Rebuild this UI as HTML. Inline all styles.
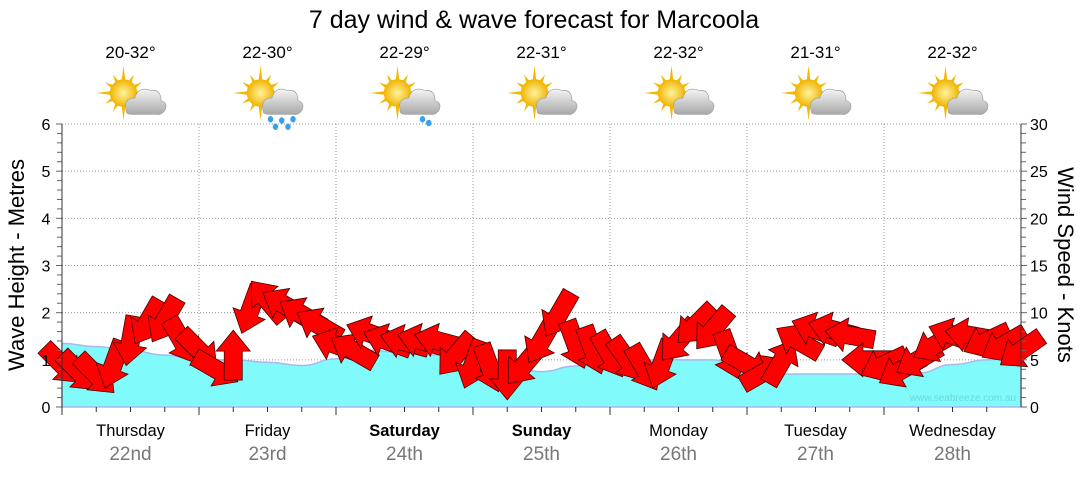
<!DOCTYPE html>
<html><head><meta charset="utf-8"><style>
body{margin:0;background:#fff;width:1080px;height:475px;overflow:hidden;font-family:"Liberation Sans",sans-serif}
svg text{font-family:"Liberation Sans",sans-serif}
</style></head><body>
<svg id="chart" width="1080" height="475" xmlns="http://www.w3.org/2000/svg">
<defs>
<radialGradient id="sunG" cx="50%" cy="50%" r="50%"><stop offset="0" stop-color="#fff3a0"/><stop offset="1" stop-color="#f0b400"/></radialGradient>
<linearGradient id="cloudG" x1="0" y1="0" x2="0" y2="1"><stop offset="0" stop-color="#f4f4f4"/><stop offset="1" stop-color="#a8a8a8"/></linearGradient>
</defs>
<text x="534" y="28" font-size="25" text-anchor="middle" fill="#000">7 day wind &amp; wave forecast for Marcoola</text>
<g id="grid"></g>
<g id="wave"></g>
<g id="arrows"></g>
<g id="axes"></g>
<g id="topg"></g>
<text x="1016" y="401" font-size="10" text-anchor="end" fill="#6fd8dc">www.seabreeze.com.au</text>
<text transform="translate(24,265) rotate(-90)" font-size="22" text-anchor="middle">Wave Height - Metres</text>
<text transform="translate(1058,265) rotate(90)" font-size="22" text-anchor="middle">Wind Speed - Knots</text>
</svg>
<script>
const days=["Thursday","Friday","Saturday","Sunday","Monday","Tuesday","Wednesday"];
const dates=["22nd","23rd","24th","25th","26th","27th","28th"];
const temps=["20-32°","22-30°","22-29°","22-31°","22-32°","21-31°","22-32°"];
const icons=["cloud","rain","shower","cloud","cloud","cloud","cloud"];
const boldDays=[false,false,true,true,false,false,false];
const waveTicks=[0,1,2,3,4,5,6];
const windTicks=[0,5,10,15,20,25,30];
const wave=[1.35,1.28,1.2,1.1,1.0,1.0,0.95,0.88,1.02,1.2,1.15,1.1,1.2,0.85,0.75,0.87,0.95,1.0,1.0,1.0,0.72,0.7,0.7,0.7,0.72,0.72,0.9,1.0,1.05];
const windSpeed=[4.5,3.7,3.4,4.5,7,9,9.2,7,6,4,5.5,10.3,11.3,10.8,9.8,8.7,6.6,6,7.8,7,6.9,7,7,5.5,4.5,4.1,3.4,4.5,7,9.8,6.6,6,5.5,5,4.1,4.5,7,8.7,8.2,5.5,4.5,3.7,4.8,7,8.2,8.2,7.6,5,4.5,3.9,5,6.6,7.6,7.6,7,6.6,6];
const windDir=[135,135,135,200,190,210,210,150,135,120,0,200,320,300,300,300,290,300,290,290,285,285,285,220,200,160,180,220,210,210,160,160,150,145,150,200,220,225,220,160,120,60,30,300,290,285,280,270,245,240,240,240,290,280,245,240,235];
const X0=62,X1=1021,Y0=407,Y6=124;
const xDay=d=>X0+(X1-X0)*d/7;
const yM=m=>Y0-(Y0-Y6)*m/6;
const yK=k=>Y0-(Y0-Y6)*k/30;
const NS="http://www.w3.org/2000/svg";
function mk(p,t,a){const e=document.createElementNS(NS,t);for(const k in a)e.setAttribute(k,a[k]);p.appendChild(e);return e;}
const grid=document.getElementById('grid'),axes=document.getElementById('axes'),topG=document.getElementById('topg');
waveTicks.forEach(v=>{if(v>0){const l=mk(grid,'line',{x1:X0,x2:X1,y1:yM(v),y2:yM(v),stroke:'#999','stroke-dasharray':'1,2'});

}
const t=mk(axes,'text',{x:46,y:yM(v)+6,'font-size':16,'text-anchor':'middle',fill:'#000'});t.textContent=v;

});
windTicks.forEach(v=>{const t=mk(axes,'text',{x:1030,y:yK(v)+6,'font-size':16,fill:'#000'});t.textContent=v;

});
for(let i=0;i<=30;i++){const y=Y0-(Y0-Y6)*i/30;const big=i%5==0;
mk(axes,'line',{x1:big?X0-6:X0-5,x2:X0,y1:y,y2:y,stroke:'#666'});
mk(axes,'line',{x1:X1,x2:X1+(big?6:5),y1:y,y2:y,stroke:'#666'});}
mk(axes,'line',{x1:X0,x2:X0,y1:Y6,y2:Y0+5,stroke:'#333'});
mk(axes,'line',{x1:X1,x2:X1,y1:Y6,y2:Y0,stroke:'#333'});
for(let d=0;d<7;d++){
 if(d>0){const l=mk(grid,'line',{x1:xDay(d),x2:xDay(d),y1:Y6,y2:Y0,stroke:'#999','stroke-dasharray':'1,2'});
 
 }
 for(let q=0;q<4;q++){const x=xDay(d+q/4);mk(axes,'line',{x1:x,x2:x,y1:Y0,y2:Y0+(q==0?8:5),stroke:'#333'});}
 const cx=xDay(d+0.5);
 const a=mk(topG,'text',{x:cx,y:436,'font-size':16.5,'text-anchor':'middle','font-weight':boldDays[d]?'bold':'normal'});a.textContent=days[d];
 
 
 const b=mk(topG,'text',{x:cx,y:460,'font-size':19,'text-anchor':'middle',fill:'#777'});b.textContent=dates[d];
 
 
 const t=mk(topG,'text',{x:cx,y:58,'font-size':17,'text-anchor':'middle'});t.textContent=temps[d];
 
 
 const g=mk(topG,'g',{transform:`translate(${cx-7},${93}) scale(1.25)`});
 
 
 for(let r=0;r<12;r++){const an=r*30*Math.PI/180;mk(g,'polygon',{points:`${Math.cos(an-0.15)*10},${Math.sin(an-0.15)*10} ${Math.cos(an)*(r%3==0?22:17)},${Math.sin(an)*(r%3==0?22:17)} ${Math.cos(an+0.15)*10},${Math.sin(an+0.15)*10}`,fill:'#f5b800'});}
 mk(g,'circle',{cx:0,cy:0,r:11,fill:'url(#sunG)'});
 mk(g,'path',{d:'M2,14 Q0,4 9,4 Q12,-6 22,-2 Q30,-3 30,6 Q36,8 33,14 Q30,18 26,17 L6,17 Q2,17 2,14Z',fill:'url(#cloudG)',stroke:'#999','stroke-width':0.5});
 if(icons[d]!='cloud'){const drops=icons[d]=='rain'?[[8,21],[17,22],[26,21],[12,27],[22,27]]:[[20,21],[25,24]];
  drops.forEach(p=>mk(g,'ellipse',{cx:p[0],cy:p[1],rx:2.2,ry:2.6,fill:'#3aa0e8'}));}
}
const wg=document.getElementById('wave');
let pts=wave.map((v,i)=>[xDay(i/4),yM(v)]);
let dd=`M${pts[0][0]},${Y0} L${pts[0][0]},${pts[0][1]}`;
for(let i=1;i<pts.length;i++){const p=pts[i-1],c=pts[i],mx=(p[0]+c[0])/2;dd+=` C${mx},${p[1]} ${mx},${c[1]} ${c[0]},${c[1]}`;}
const wa=mk(wg,'path',{d:dd+` L${X1},${Y0}Z`,fill:'#80fafa',stroke:'#a8b8f0','stroke-width':1.5});


const ag=document.getElementById('arrows');
windSpeed.forEach((s,i)=>{const x=xDay(i/8),y=yK(s);
 const p=mk(ag,'polygon',{points:'0,-25 17,-4 9,-4 9,25 -9,25 -9,-4 -17,-4',fill:'#ff0000',stroke:'#400','stroke-width':0.8,transform:`translate(${x},${y}) rotate(${windDir[i]})`});
 
 
});
</script>
</body></html>
